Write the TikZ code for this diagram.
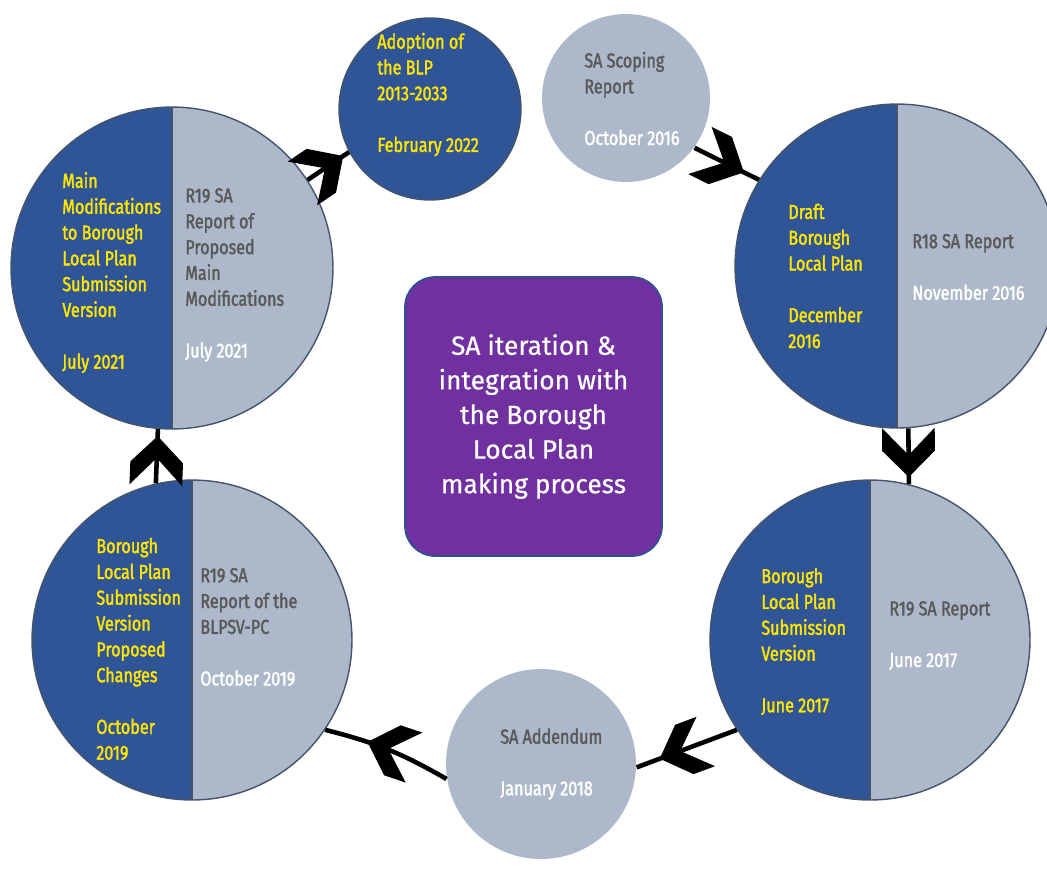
\documentclass[tikz,border=0pt]{standalone}
\usepackage{fontspec}
\setmainfont{Fira Sans}
\newfontfamily\narrowfont{Fira Sans}[FakeStretch=0.8, FakeBold=1.8]
\newfontfamily\hubfont{Fira Sans}[FakeBold=0.6]
\usetikzlibrary{decorations.markings}
\definecolor{planblue}{RGB}{47,85,151}
\definecolor{sagrey}{RGB}{173,185,202}
\definecolor{rimgrey}{RGB}{68,84,106}
\definecolor{planyellow}{RGB}{255,230,0}
\definecolor{textgrey}{RGB}{89,89,89}
\definecolor{hubpurple}{RGB}{112,48,160}
\definecolor{hubrim}{RGB}{47,82,143}
\begin{document}
\begin{tikzpicture}[x=0.02cm, y=-0.02cm,
  stage/.style={circle, draw=rimgrey, line width=0.8pt, fill=sagrey, inner sep=0pt},
  split/.style={stage, path picture={
    \fill[planblue] (path picture bounding box.south west) rectangle (path picture bounding box.north);
    \draw[rimgrey, line width=0.8pt] (path picture bounding box.south) -- (path picture bounding box.north);}},
  plan/.style={text=planyellow, align=left, anchor=west, inner sep=0pt, font=\narrowfont\fontsize{11.5}{14.7}\selectfont},
  sa/.style={plan, text=textgrey},
  flow/.style={line width=2.6pt, postaction={decorate}, decoration={markings, mark=at position -#1 with
    {\fill (0pt,0pt) -- (-15pt,15pt) -- (-28pt,15pt) -- (-12.5pt,0pt) -- (-28pt,-15pt) -- (-15pt,-15pt) -- cycle;}}},
  flow/.default=4pt]
\useasboundingbox (0,0) rectangle (1047,870);

% stages round the cycle
\node[split, minimum size=6.44cm] (mods) at (172,268) {};
\node[split, minimum size=6.48cm] (draft) at (897,266) {};
\node[split, minimum size=6.4cm] (submission) at (870,640) {};
\node[split, minimum size=6.4cm] (changes) at (192,640) {};
\node[stage, fill=planblue, minimum size=3.64cm] (adoption) at (430,109) {};
\node[stage, draw=none, minimum size=3.36cm] (scoping) at (626,98) {};
\node[stage, draw=none, minimum size=3.8cm] (addendum) at (541,764) {};

% centre box
\node[draw=hubrim, line width=1pt, fill=hubpurple, rounded corners=0.6cm, minimum width=5.14cm, minimum height=5.58cm,
  text=white, align=center, font=\hubfont\fontsize{15}{19.7}\selectfont] (hub) at (533.5,416.5)
  {SA iteration \&\\integration with\\the Borough\\Local Plan\\making process};

% texts
\node[plan] (mods-plan) at (62,272.5) {Main\\Modifications\\to Borough\\Local Plan\\Submission\\Version\\[14.7pt]July 2021};
\node[sa] (mods-sa) at (185,275) {R19 SA\\Report of\\Proposed\\Main\\Modifications\\[14.7pt]\textcolor{white}{July 2021}};
\node[plan] (draft-plan) at (788,276) {Draft\\Borough\\Local Plan\\[14.7pt]December\\2016};
\node[sa] (draft-sa) at (912,267) {R18 SA Report\\[14.7pt]\textcolor{white}{November 2016}};
\node[plan] (submission-plan) at (761,641.5) {Borough\\Local Plan\\Submission\\Version\\[14.7pt]June 2017};
\node[sa] (submission-sa) at (889,635.5) {R19 SA Report\\[14.7pt]\textcolor{white}{June 2017}};
\node[plan] (changes-plan) at (96,649) {Borough\\Local Plan\\Submission\\Version\\Proposed\\Changes\\[14.7pt]October\\2019};
\node[sa] (changes-sa) at (200,627) {R19 SA\\Report of the\\BLPSV-PC\\[14.7pt]\textcolor{white}{October 2019}};
\node[plan] (adoption-text) at (377,94.5) {Adoption of\\the BLP\\2013-2033\\[14.7pt]February 2022};
\node[sa] (scoping-text) at (584,98.5) {SA Scoping\\Report\\[14.7pt]\textcolor{white}{October 2016}};
\node[sa] (addendum-text) at (500,764) {SA Addendum\\[14.7pt]\textcolor{white}{January 2018}};

% cycle arrows
\draw[flow=9.6pt] (scoping.-36) -- (draft.148);
\draw[flow] (draft.-86) -- (submission.76);
\draw[flow=14pt] (submission.-146) -- (addendum.-2);
\draw[flow=25pt] (addendum.-171) to[bend right=8] (changes.-34);
\draw[flow] (changes.103) -- (mods.-95);
\draw[flow] (mods.33) -- (adoption.-152);
\end{tikzpicture}
\end{document}
